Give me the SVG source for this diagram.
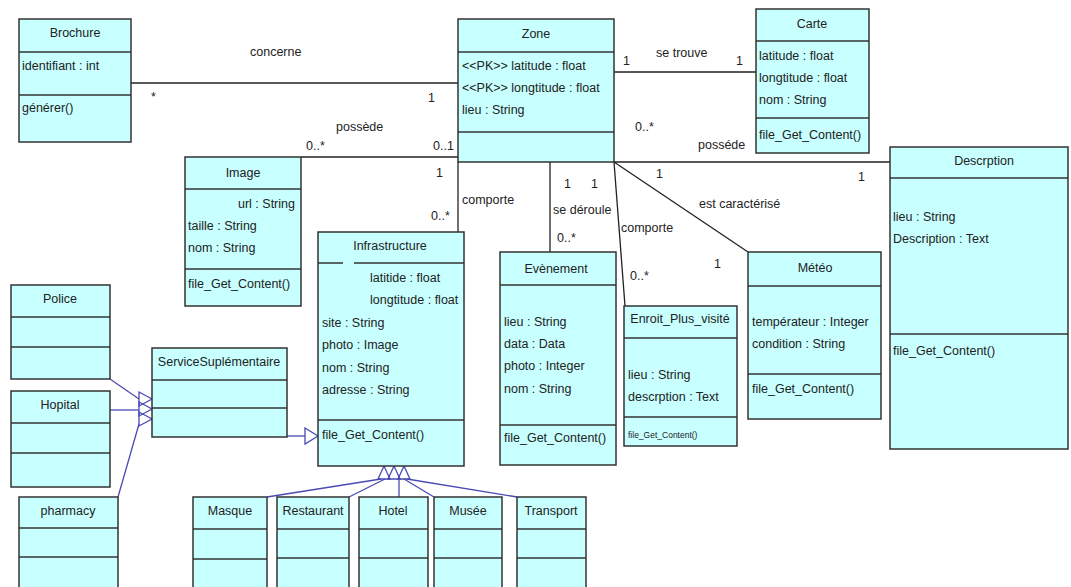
<svg xmlns="http://www.w3.org/2000/svg" width="1071" height="587" viewBox="0 0 1071 587">
<style>
.box{fill:#c8ffff;stroke:#333;stroke-width:1.5}
.dv{stroke:#333;stroke-width:1.5}
text{font-family:"Liberation Sans",Arial,sans-serif;font-size:12.5px;fill:#222}
.c{text-anchor:middle}
.as{stroke:#222;stroke-width:1.3;fill:none}
.gn{stroke:#4a4ab4;stroke-width:1.3;fill:none}
</style>
<rect width="1071" height="587" fill="#fff"/>
<g id="connectors">
<line class="as" x1="131" y1="83" x2="458" y2="83"/>
<line class="as" x1="301" y1="157" x2="458" y2="157"/>
<line class="as" x1="458" y1="162" x2="458" y2="232"/>
<line class="as" x1="614" y1="72" x2="756" y2="72"/>
<line class="as" x1="550" y1="162" x2="550" y2="252"/>
<line class="as" x1="614" y1="162" x2="625" y2="306"/>
<line class="as" x1="614" y1="162" x2="748" y2="252"/>
<line class="as" x1="614" y1="162" x2="890" y2="162"/>
<polyline class="gn" points="110,379 139,399"/>
<polyline class="gn" points="110,410 139,410"/>
<polyline class="gn" points="118,497 139,424"/>
<polygon class="gn" points="139,392 152,399 139,406"/>
<polygon class="gn" points="139,402 152,409 139,416"/>
<polygon class="gn" points="139,412 152,419 139,426"/>
<line class="gn" x1="287" y1="436" x2="305" y2="436"/>
<polygon class="gn" points="305,428 318,436 305,444"/>
<polygon class="gn" points="378,479 384,466 390,479"/>
<polygon class="gn" points="388,479 394,466 400,479"/>
<polygon class="gn" points="398,479 404,466 410,479"/>
<line class="gn" x1="267" y1="497" x2="381" y2="479"/>
<line class="gn" x1="349" y1="497" x2="385" y2="479"/>
<line class="gn" x1="399" y1="497" x2="399" y2="479"/>
<line class="gn" x1="434" y1="497" x2="404" y2="479"/>
<line class="gn" x1="517" y1="497" x2="407" y2="479"/>
<text x="250" y="56">concerne</text>
<text x="151" y="101">*</text>
<text x="428" y="102">1</text>
<text x="336" y="131">possède</text>
<text x="306" y="150">0..*</text>
<text x="433" y="150">0..1</text>
<text x="436" y="177">1</text>
<text x="431" y="220">0..*</text>
<text x="462" y="204">comporte</text>
<text x="623" y="65">1</text>
<text x="656" y="57">se trouve</text>
<text x="736" y="65">1</text>
<text x="635" y="131">0..*</text>
<text x="698" y="149">posséde</text>
<text x="564" y="188">1</text>
<text x="591" y="188">1</text>
<text x="553" y="214">se déroule</text>
<text x="557" y="242">0..*</text>
<text x="621" y="232">comporte</text>
<text x="630" y="280">0..*</text>
<text x="656" y="178">1</text>
<text x="699" y="208">est caractérisé</text>
<text x="714" y="268">1</text>
<text x="858" y="181">1</text>
</g>
<g id="Brochure">
<rect class="box" x="19" y="19" width="112" height="123"/>
<line class="dv" x1="19" y1="52" x2="131" y2="52"/>
<line class="dv" x1="19" y1="95" x2="131" y2="95"/>
<text class="c" x="75" y="37">Brochure</text>
<text x="22" y="70">identifiant : int</text>
<text x="22" y="112">générer()</text>
</g>
<g id="Zone">
<rect class="box" x="458" y="19" width="156" height="143"/>
<line class="dv" x1="458" y1="52" x2="614" y2="52"/>
<line class="dv" x1="458" y1="132" x2="614" y2="132"/>
<text class="c" x="536" y="38">Zone</text>
<text x="462" y="70">&lt;&lt;PK&gt;&gt; latitude : float</text>
<text x="462" y="92">&lt;&lt;PK&gt;&gt; longtitude : float</text>
<text x="462" y="114">lieu : String</text>
</g>
<g id="Carte">
<rect class="box" x="756" y="9" width="113" height="144"/>
<line class="dv" x1="756" y1="41" x2="869" y2="41"/>
<line class="dv" x1="756" y1="118" x2="869" y2="118"/>
<text class="c" x="812" y="28">Carte</text>
<text x="759" y="60">latitude : float</text>
<text x="759" y="82">longtitude : float</text>
<text x="759" y="104">nom : String</text>
<text x="759" y="139">file_Get_Content()</text>
</g>
<g id="Descrption">
<rect class="box" x="890" y="147" width="178" height="302"/>
<line class="dv" x1="890" y1="178" x2="1068" y2="178"/>
<line class="dv" x1="890" y1="334" x2="1068" y2="334"/>
<text class="c" x="984" y="165">Descrption</text>
<text x="893" y="221">lieu : String</text>
<text x="893" y="243">Description : Text</text>
<text x="893" y="355">file_Get_Content()</text>
</g>
<g id="Image">
<rect class="box" x="185" y="157" width="116" height="149"/>
<line class="dv" x1="185" y1="189" x2="301" y2="189"/>
<line class="dv" x1="185" y1="269" x2="301" y2="269"/>
<text class="c" x="243" y="177">Image</text>
<text x="238" y="208">url : String</text>
<text x="188" y="230">taille : String</text>
<text x="188" y="252">nom : String</text>
<text x="188" y="288">file_Get_Content()</text>
</g>
<g id="Infrastructure">
<rect class="box" x="318" y="232" width="146" height="234"/>
<line class="dv" x1="318" y1="263" x2="343" y2="263"/>
<line class="dv" x1="354" y1="263" x2="464" y2="263"/>
<line class="dv" x1="318" y1="420" x2="464" y2="420"/>
<text class="c" x="390" y="250">Infrastructure</text>
<text x="370" y="282">latitide : float</text>
<text x="370" y="304">longtitude : float</text>
<text x="322" y="327">site : String</text>
<text x="322" y="349">photo : Image</text>
<text x="322" y="372">nom : String</text>
<text x="322" y="394">adresse : String</text>
<text x="322" y="439">file_Get_Content()</text>
</g>
<g id="Evenement">
<rect class="box" x="500" y="252" width="116" height="213"/>
<line class="dv" x1="500" y1="285" x2="616" y2="285"/>
<line class="dv" x1="500" y1="425" x2="616" y2="425"/>
<text class="c" x="556" y="273">Evènement</text>
<text x="504" y="326">lieu : String</text>
<text x="504" y="348">data : Data</text>
<text x="504" y="370">photo : Integer</text>
<text x="504" y="393">nom : String</text>
<text x="504" y="442">file_Get_Content()</text>
</g>
<g id="Enroit_Plus_visite">
<rect class="box" x="624" y="306" width="113" height="140"/>
<line class="dv" x1="624" y1="338" x2="737" y2="338"/>
<line class="dv" x1="624" y1="417" x2="737" y2="417"/>
<text class="c" x="680" y="323">Enroit_Plus_visité</text>
<text x="628" y="379">lieu : String</text>
<text x="628" y="401">descrption : Text</text>
<text x="628" y="438" style="font-size:8.5px">file_Get_Content()</text>
</g>
<g id="Meteo">
<rect class="box" x="748" y="252" width="133" height="167"/>
<line class="dv" x1="748" y1="286" x2="881" y2="286"/>
<line class="dv" x1="748" y1="374" x2="881" y2="374"/>
<text class="c" x="815" y="272">Météo</text>
<text x="752" y="326">températeur : Integer</text>
<text x="752" y="348">condition : String</text>
<text x="752" y="393">file_Get_Content()</text>
</g>
<g id="Police">
<rect class="box" x="11" y="285" width="99" height="94"/>
<line class="dv" x1="11" y1="317" x2="110" y2="317"/>
<line class="dv" x1="11" y1="347" x2="110" y2="347"/>
<text class="c" x="60" y="303">Police</text>
</g>
<g id="Hopital">
<rect class="box" x="11" y="391" width="99" height="96"/>
<line class="dv" x1="11" y1="423" x2="110" y2="423"/>
<line class="dv" x1="11" y1="453" x2="110" y2="453"/>
<text class="c" x="60" y="409">Hopital</text>
</g>
<g id="pharmacy">
<rect class="box" x="19" y="497" width="99" height="110"/>
<line class="dv" x1="19" y1="528" x2="118" y2="528"/>
<line class="dv" x1="19" y1="557" x2="118" y2="557"/>
<text class="c" x="68" y="515">pharmacy</text>
</g>
<g id="ServiceSuplementaire">
<rect class="box" x="152" y="348" width="135" height="89"/>
<line class="dv" x1="152" y1="380" x2="287" y2="380"/>
<line class="dv" x1="152" y1="408" x2="287" y2="408"/>
<text class="c" x="219" y="366">ServiceSuplémentaire</text>
</g>
<g id="Masque">
<rect class="box" x="193" y="497" width="74" height="110"/>
<line class="dv" x1="193" y1="529" x2="267" y2="529"/>
<line class="dv" x1="193" y1="559" x2="267" y2="559"/>
<text class="c" x="230" y="515">Masque</text>
</g>
<g id="Restaurant">
<rect class="box" x="277" y="497" width="72" height="110"/>
<line class="dv" x1="277" y1="529" x2="349" y2="529"/>
<line class="dv" x1="277" y1="558" x2="349" y2="558"/>
<text class="c" x="313" y="515">Restaurant</text>
</g>
<g id="Hotel">
<rect class="box" x="359" y="497" width="69" height="110"/>
<line class="dv" x1="359" y1="529" x2="428" y2="529"/>
<line class="dv" x1="359" y1="558" x2="428" y2="558"/>
<text class="c" x="393" y="515">Hotel</text>
</g>
<g id="Musee">
<rect class="box" x="434" y="497" width="68" height="110"/>
<line class="dv" x1="434" y1="529" x2="502" y2="529"/>
<line class="dv" x1="434" y1="558" x2="502" y2="558"/>
<text class="c" x="468" y="515">Musée</text>
</g>
<g id="Transport">
<rect class="box" x="517" y="497" width="69" height="110"/>
<line class="dv" x1="517" y1="529" x2="586" y2="529"/>
<line class="dv" x1="517" y1="558" x2="586" y2="558"/>
<text class="c" x="551" y="515">Transport</text>
</g>
</svg>
